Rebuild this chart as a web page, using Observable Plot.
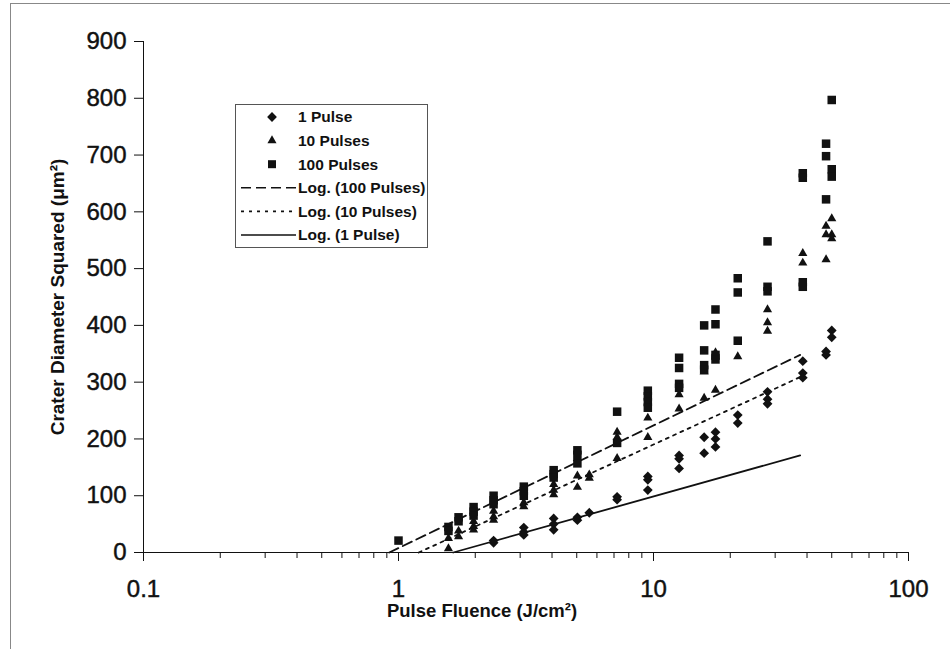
<!DOCTYPE html>
<html><head><meta charset="utf-8">
<script src="https://cdn.jsdelivr.net/npm/d3@7"></script>
<script src="https://cdn.jsdelivr.net/npm/@observablehq/plot@0.6"></script>
<style>
body{margin:0;background:#fff;}
#wrap{position:relative;width:950px;height:649px;overflow:hidden;background:#fff;}
#border{position:absolute;left:10px;top:3px;width:960px;height:700px;border-left:1px solid #888;border-top:1px solid #888;pointer-events:none;}
#legend{position:absolute;left:235px;top:104px;}
#chart svg g[aria-label="y-axis tick label"] text, #chart svg g[aria-label="x-axis tick label"] text{stroke:#111;stroke-width:0.45px;}
</style></head><body>
<div id="wrap"><div id="chart"></div><div id="border"></div><div id="legend"></div></div>
<script>
// ---- data ----
const f1 = [2.36,2.36,3.1,3.1,3.1,4.06,4.06,4.06,5.03,5.03,5.6,7.2,7.2,9.5,9.5,9.5,12.6,12.6,12.6,15.8,15.8,17.5,17.5,17.5,21.4,21.4,28,28,28,38.5,38.5,38.5,47.5,47.5,50,50];
const v1 = [21,17,44,36,31,60,50,40,62,57,70,98,93,134,128,110,171,165,148,203,175,212,200,186,242,228,283,270,262,337,316,308,354,348,391,379];

const f10 = [1.57,1.57,1.72,1.72,1.97,1.97,1.97,2.36,2.36,2.36,3.1,3.1,4.06,4.06,4.06,5.03,5.03,5.03,5.6,5.6,7.2,7.2,7.2,9.5,9.5,12.6,12.6,15.8,15.8,17.5,17.5,17.5,21.4,28,28,28,38.5,38.5,47.5,47.5,47.5,50,50,50];
const v10 = [25,7,38,28,55,46,40,73,63,57,88,81,120,110,102,166,135,115,137,131,212,203,166,237,203,278,253,318,272,352,344,286,345,428,405,390,527,510,575,560,516,588,560,553];

const f100 = [1.0,1.57,1.57,1.72,1.72,1.97,1.97,1.97,2.36,2.36,2.36,3.1,3.1,3.1,4.06,4.06,4.06,5.03,5.03,5.03,7.2,7.2,9.5,9.5,9.5,9.5,12.6,12.6,12.6,12.6,15.8,15.8,15.8,15.8,17.5,17.5,17.5,17.5,21.4,21.4,21.4,28,28,28,38.5,38.5,38.5,38.5,47.5,47.5,47.5,50,50,50];
const v100 = [21,45,38,62,55,80,72,65,100,92,85,116,108,100,145,138,132,180,172,157,248,193,285,275,265,255,343,325,297,290,400,356,330,322,428,402,348,340,483,458,373,548,468,460,668,660,476,468,720,698,622,797,675,662];

// logarithmic trendlines y = a ln(x) + b
const trendNames = ["Log. (1 Pulse)", "Log. (10 Pulses)", "Log. (100 Pulses)"];
const trendA = [54.6, 89.7, 93.8];
const trendB = [-27.0, -16.4, 7.8];
const trendEnd = [37.6, 37.6, 37.6];

const yTicks = [0,100,200,300,400,500,600,700,800,900];
const majorTicks = [0.1, 1, 10, 100];
const minorTicks = [0.2,0.3,0.4,0.5,0.6,0.7,0.8,0.9,2,3,4,5,6,7,8,9,20,30,40,50,60,70,80,90];
const seriesNames = ["1 Pulse", "10 Pulses", "100 Pulses"];
const yTitle = "Crater Diameter Squared (\u03bcm\u00b2)";
const xTitle = "Pulse Fluence (J/cm\u00b2)";

// ---- build ----
const pts = (f, v) => f.map((x, i) => ({x, y: v[i]}));
const trend = trendA.map((a, i) => {
  const b = trendB[i];
  const x0 = Math.exp(-b / a);
  return [x0, trendEnd[i]].map(x => ({x, y: a * Math.log(x) + b}));
});
const ink = "#111";
const dashes = ["none", "3,5", "10,5"];

const chart = Plot.plot({
  width: 950, height: 649,
  marginLeft: 143, marginRight: 42, marginTop: 41, marginBottom: 97,
  style: {fontFamily: "'Liberation Sans', Arial, sans-serif", color: ink, background: "#fff", overflow: "visible"},
  x: {type: "log", domain: [0.1, 100]},
  y: {domain: [0, 900]},
  marks: [
    Plot.axisY({ticks: yTicks, tickSize: 9, tickPadding: 8, fontSize: 24, label: null}),
    Plot.axisX({ticks: minorTicks, tickSize: 6, tickFormat: () => "", label: null}),
    Plot.axisX({ticks: majorTicks, tickSize: 9, tickPadding: 18, fontSize: 24, tickFormat: d => String(d), label: null}),
    Plot.ruleX([0.1], {stroke: ink}),
    Plot.ruleY([0], {stroke: ink}),
    ...trend.map((t, i) => Plot.line(t, {x: "x", y: "y", stroke: ink, strokeWidth: 1.8, strokeDasharray: dashes[i]})),
    Plot.dot(pts(f1, v1), {x: "x", y: "y", symbol: "square", rotate: 45, r: 3.9, fill: ink}),
    Plot.dot(pts(f10, v10), {x: "x", y: "y", symbol: "triangle", r: 3.4, fill: ink}),
    Plot.dot(pts(f100, v100), {x: "x", y: "y", symbol: "square", r: 4.8, fill: ink}),
    Plot.text([yTitle], {frameAnchor: "left", text: d => d, rotate: -90, dx: -86, fontSize: 19, fontWeight: "bold", textAnchor: "middle", lineAnchor: "middle", fill: ink}),
    Plot.text([xTitle], {frameAnchor: "bottom", text: d => d, dx: -44, dy: 59, fontSize: 18.5, fontWeight: "bold", textAnchor: "middle", lineAnchor: "middle", fill: ink})
  ]
});
document.getElementById("chart").appendChild(chart);

// ---- legend ----
const lg = d3.select("#legend").append("svg").attr("width", 194).attr("height", 145)
  .style("font-family", "'Liberation Sans', Arial, sans-serif");
lg.append("rect").attr("x", 0.5).attr("y", 0.5).attr("width", 192).attr("height", 143)
  .attr("fill", "#fff").attr("stroke", "#555").attr("stroke-width", 1);
const rowY = i => 13 + i * 23.6;
const sym = [d3.symbolSquare, d3.symbolTriangle, d3.symbolSquare];
const symSize = [48, 36, 64];
seriesNames.forEach((n, i) => {
  lg.append("path").attr("d", d3.symbol(sym[i], symSize[i])())
    .attr("transform", `translate(37,${rowY(i)}) rotate(${i === 0 ? 45 : 0})`).attr("fill", ink);
  lg.append("text").attr("x", 63).attr("y", rowY(i)).attr("dy", "0.35em").attr("font-size", 15.5).attr("font-weight", "bold").attr("fill", ink).text(n);
});
[2, 1, 0].forEach((ti, k) => {
  const y = rowY(3 + k);
  lg.append("line").attr("x1", 6).attr("x2", 61).attr("y1", y).attr("y2", y)
    .attr("stroke", ink).attr("stroke-width", 1.6).attr("stroke-dasharray", dashes[ti]);
  lg.append("text").attr("x", 63).attr("y", y).attr("dy", "0.35em").attr("font-size", 15.5).attr("font-weight", "bold").attr("fill", ink).text(trendNames[ti]);
});
</script>
</body></html>
